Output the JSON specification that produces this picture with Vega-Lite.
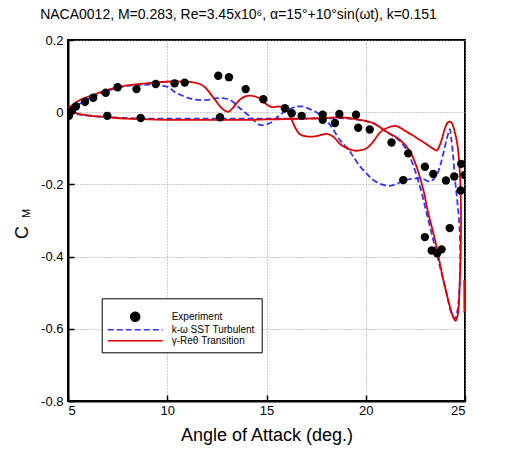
{
"$schema": "https://vega.github.io/schema/vega-lite/v6.json",
"autosize": {"type": "none"},
"padding": {"left": 68, "top": 40, "right": 45, "bottom": 48},
"width": 397,
"height": 361,
"background": "white",
"title": {"text": "NACA0012, M=0.283, Re=3.45x10⁶, α=15°+10°sin(ωt), k=0.151", "fontSize": 14, "font": "Liberation Sans", "fontWeight": "normal", "color": "black", "anchor": "middle", "dx": -28, "offset": 12},
"config": {
  "font": "Liberation Sans",
  "view": {"stroke": "black", "strokeWidth": 2},
  "legend": {
    "orient": "none", "legendX": 33.7, "legendY": 258.3,
    "strokeColor": "black", "fillColor": "white", "padding": 6,
    "symbolSize": 81, "symbolStrokeWidth": 1.5, "symbolOffset": 22, "labelOffset": 31,
    "labelFont": "Liberation Sans", "labelFontSize": 10, "labelColor": "black", "rowPadding": -1,
    "titleFontSize": 6, "titlePadding": 1
  }
},
"data": {"values": [
{"s":"E","a":5.05,"c":-0.010},{"s":"E","a":5.2,"c":0.004},{"s":"E","a":5.4,"c":0.016},{"s":"E","a":5.86,"c":0.029},{"s":"E","a":6.27,"c":0.040},{"s":"E","a":6.90,"c":0.054},{"s":"E","a":7.50,"c":0.069},{"s":"E","a":8.45,"c":0.064},{"s":"E","a":9.42,"c":0.078},{"s":"E","a":10.37,"c":0.080},{"s":"E","a":10.88,"c":0.082},{"s":"E","a":12.57,"c":0.101},{"s":"E","a":13.11,"c":0.097},{"s":"E","a":13.95,"c":0.064},{"s":"E","a":14.84,"c":0.036},{"s":"E","a":15.93,"c":0.011},{"s":"E","a":16.27,"c":-0.003},{"s":"E","a":16.77,"c":-0.010},{"s":"E","a":17.83,"c":-0.007},{"s":"E","a":17.83,"c":-0.021},{"s":"E","a":18.45,"c":-0.030},{"s":"E","a":18.67,"c":-0.005},{"s":"E","a":19.51,"c":-0.007},{"s":"E","a":19.62,"c":-0.043},{"s":"E","a":20.2,"c":-0.048},{"s":"E","a":21.30,"c":-0.084},{"s":"E","a":22.14,"c":-0.114},{"s":"E","a":22.98,"c":-0.151},{"s":"E","a":23.40,"c":-0.171},{"s":"E","a":24.04,"c":-0.189},{"s":"E","a":24.46,"c":-0.178},{"s":"E","a":24.81,"c":-0.143},{"s":"E","a":24.98,"c":-0.174},{"s":"E","a":24.78,"c":-0.217},{"s":"E","a":21.89,"c":-0.188},{"s":"E","a":22.98,"c":-0.346},{"s":"E","a":23.32,"c":-0.383},{"s":"E","a":23.60,"c":-0.391},{"s":"E","a":23.82,"c":-0.380},{"s":"E","a":24.23,"c":-0.321},{"s":"E","a":6.98,"c":-0.010},{"s":"E","a":8.66,"c":-0.016},{"s":"E","a":12.66,"c":-0.014},
{"s":"K","g":"m","o":1,"a":5.0,"c":0.0},{"s":"K","g":"m","o":2,"a":5.5,"c":-0.006},{"s":"K","g":"m","o":3,"a":6.5,"c":-0.012},{"s":"K","g":"m","o":4,"a":7.5,"c":-0.015},{"s":"K","g":"m","o":5,"a":8.5,"c":-0.017},{"s":"K","g":"m","o":6,"a":10,"c":-0.018},{"s":"K","g":"m","o":7,"a":12,"c":-0.018},{"s":"K","g":"m","o":8,"a":14,"c":-0.018},{"s":"K","g":"m","o":9,"a":16,"c":-0.018},{"s":"K","g":"m","o":10,"a":18,"c":-0.017},{"s":"K","g":"m","o":11,"a":19,"c":-0.017},{"s":"K","g":"m","o":12,"a":19.5,"c":-0.020},{"s":"K","g":"m","o":13,"a":20.0,"c":-0.025},{"s":"K","g":"m","o":14,"a":20.4,"c":-0.031},{"s":"K","g":"m","o":15,"a":21.05,"c":-0.055},{"s":"K","g":"m","o":16,"a":21.73,"c":-0.080},{"s":"K","g":"m","o":17,"a":22.23,"c":-0.125},{"s":"K","g":"m","o":18,"a":22.73,"c":-0.206},{"s":"K","g":"m","o":19,"a":23.07,"c":-0.280},{"s":"K","g":"m","o":20,"a":23.4,"c":-0.354},{"s":"K","g":"m","o":21,"a":23.74,"c":-0.428},{"s":"K","g":"m","o":22,"a":24.07,"c":-0.501},{"s":"K","g":"m","o":23,"a":24.32,"c":-0.557},{"s":"K","g":"m","o":24,"a":24.5,"c":-0.571},{"s":"K","g":"m","o":25,"a":24.62,"c":-0.550},{"s":"K","g":"m","o":26,"a":24.72,"c":-0.490},{"s":"K","g":"m","o":27,"a":24.76,"c":-0.400},{"s":"K","g":"m","o":28,"a":24.71,"c":-0.307},{"s":"K","g":"m","o":29,"a":24.6,"c":-0.240},{"s":"K","g":"m","o":30,"a":24.5,"c":-0.188},{"s":"K","g":"m","o":31,"a":24.4,"c":-0.120},{"s":"K","g":"m","o":32,"a":24.3,"c":-0.070},{"s":"K","g":"m","o":33,"a":24.24,"c":-0.047},{"s":"K","g":"m","o":34,"a":24.11,"c":-0.068},{"s":"K","g":"m","o":35,"a":23.91,"c":-0.114},{"s":"K","g":"m","o":36,"a":23.74,"c":-0.150},{"s":"K","g":"m","o":37,"a":23.57,"c":-0.174},{"s":"K","g":"m","o":38,"a":23.24,"c":-0.192},{"s":"K","g":"m","o":39,"a":22.9,"c":-0.185},{"s":"K","g":"m","o":40,"a":22.65,"c":-0.183},{"s":"K","g":"m","o":41,"a":22.3,"c":-0.185},{"s":"K","g":"m","o":42,"a":21.89,"c":-0.190},{"s":"K","g":"m","o":43,"a":21.5,"c":-0.200},{"s":"K","g":"m","o":44,"a":21.22,"c":-0.204},{"s":"K","g":"m","o":45,"a":20.8,"c":-0.200},{"s":"K","g":"m","o":46,"a":20.38,"c":-0.188},{"s":"K","g":"m","o":47,"a":20.05,"c":-0.170},{"s":"K","g":"m","o":48,"a":19.71,"c":-0.150},{"s":"K","g":"m","o":49,"a":19.37,"c":-0.123},{"s":"K","g":"m","o":50,"a":19.2,"c":-0.109},{"s":"K","g":"m","o":51,"a":18.7,"c":-0.077},{"s":"K","g":"m","o":52,"a":18.2,"c":-0.035},{"s":"K","g":"m","o":53,"a":17.7,"c":-0.007},{"s":"K","g":"m","o":54,"a":17.28,"c":0.006},{"s":"K","g":"m","o":55,"a":16.77,"c":0.016},{"s":"K","g":"m","o":56,"a":16.35,"c":0.013},{"s":"K","g":"m","o":57,"a":15.68,"c":-0.007},{"s":"K","g":"m","o":58,"a":15.18,"c":-0.030},{"s":"K","g":"m","o":59,"a":14.67,"c":-0.035},{"s":"K","g":"m","o":60,"a":14.17,"c":-0.012},{"s":"K","g":"m","o":61,"a":13.66,"c":0.011},{"s":"K","g":"m","o":62,"a":13.16,"c":0.034},{"s":"K","g":"m","o":63,"a":12.49,"c":0.039},{"s":"K","g":"m","o":64,"a":11.98,"c":0.034},{"s":"K","g":"m","o":65,"a":11.31,"c":0.036},{"s":"K","g":"m","o":66,"a":10.47,"c":0.053},{"s":"K","g":"m","o":67,"a":9.97,"c":0.071},{"s":"K","g":"m","o":68,"a":8.8,"c":0.076},{"s":"K","g":"m","o":69,"a":7.62,"c":0.069},{"s":"K","g":"m","o":70,"a":6.27,"c":0.043},{"s":"K","g":"m","o":71,"a":5.5,"c":0.020},{"s":"K","g":"m","o":72,"a":5.0,"c":0.0},
{"s":"G","g":"m","o":1,"a":5.0,"c":0.005},{"s":"G","g":"m","o":2,"a":5.5,"c":-0.004},{"s":"G","g":"m","o":3,"a":6.0,"c":-0.009},{"s":"G","g":"m","o":4,"a":7.0,"c":-0.014},{"s":"G","g":"m","o":5,"a":8.0,"c":-0.018},{"s":"G","g":"m","o":6,"a":9.0,"c":-0.020},{"s":"G","g":"m","o":7,"a":10.0,"c":-0.021},{"s":"G","g":"m","o":8,"a":12.0,"c":-0.021},{"s":"G","g":"m","o":9,"a":14.0,"c":-0.021},{"s":"G","g":"m","o":10,"a":15.0,"c":-0.020},{"s":"G","g":"m","o":11,"a":16.0,"c":-0.019},{"s":"G","g":"m","o":12,"a":17.0,"c":-0.018},{"s":"G","g":"m","o":13,"a":18.0,"c":-0.016},{"s":"G","g":"m","o":14,"a":18.7,"c":-0.014},{"s":"G","g":"m","o":15,"a":19.5,"c":-0.019},{"s":"G","g":"m","o":16,"a":20.0,"c":-0.024},{"s":"G","g":"m","o":17,"a":20.4,"c":-0.031},{"s":"G","g":"m","o":18,"a":21.05,"c":-0.054},{"s":"G","g":"m","o":19,"a":21.73,"c":-0.077},{"s":"G","g":"m","o":20,"a":22.23,"c":-0.109},{"s":"G","g":"m","o":21,"a":22.56,"c":-0.151},{"s":"G","g":"m","o":22,"a":22.9,"c":-0.215},{"s":"G","g":"m","o":23,"a":23.15,"c":-0.280},{"s":"G","g":"m","o":24,"a":23.49,"c":-0.354},{"s":"G","g":"m","o":25,"a":23.91,"c":-0.465},{"s":"G","g":"m","o":26,"a":24.24,"c":-0.539},{"s":"G","g":"m","o":27,"a":24.42,"c":-0.570},{"s":"G","g":"m","o":28,"a":24.52,"c":-0.578},{"s":"G","g":"m","o":29,"a":24.64,"c":-0.560},{"s":"G","g":"m","o":30,"a":24.74,"c":-0.470},{"s":"G","g":"m","o":31,"a":24.8,"c":-0.330},{"s":"G","g":"m","o":32,"a":24.76,"c":-0.190},{"s":"G","g":"m","o":33,"a":24.63,"c":-0.095},{"s":"G","g":"m","o":34,"a":24.46,"c":-0.049},{"s":"G","g":"m","o":35,"a":24.32,"c":-0.029},{"s":"G","g":"m","o":36,"a":24.21,"c":-0.026},{"s":"G","g":"m","o":37,"a":24.1,"c":-0.031},{"s":"G","g":"m","o":38,"a":23.99,"c":-0.045},{"s":"G","g":"m","o":39,"a":23.74,"c":-0.090},{"s":"G","g":"m","o":40,"a":23.57,"c":-0.106},{"s":"G","g":"m","o":41,"a":23.4,"c":-0.101},{"s":"G","g":"m","o":42,"a":23.1,"c":-0.090},{"s":"G","g":"m","o":43,"a":22.73,"c":-0.077},{"s":"G","g":"m","o":44,"a":22.3,"c":-0.062},{"s":"G","g":"m","o":45,"a":22.0,"c":-0.052},{"s":"G","g":"m","o":46,"a":21.7,"c":-0.042},{"s":"G","g":"m","o":47,"a":21.47,"c":-0.038},{"s":"G","g":"m","o":48,"a":21.1,"c":-0.043},{"s":"G","g":"m","o":49,"a":20.72,"c":-0.056},{"s":"G","g":"m","o":50,"a":20.4,"c":-0.080},{"s":"G","g":"m","o":51,"a":20.05,"c":-0.100},{"s":"G","g":"m","o":52,"a":19.7,"c":-0.106},{"s":"G","g":"m","o":53,"a":19.37,"c":-0.106},{"s":"G","g":"m","o":54,"a":19.0,"c":-0.098},{"s":"G","g":"m","o":55,"a":18.7,"c":-0.088},{"s":"G","g":"m","o":56,"a":18.37,"c":-0.068},{"s":"G","g":"m","o":57,"a":18.03,"c":-0.060},{"s":"G","g":"m","o":58,"a":17.53,"c":-0.066},{"s":"G","g":"m","o":59,"a":17.0,"c":-0.067},{"s":"G","g":"m","o":60,"a":16.7,"c":-0.062},{"s":"G","g":"m","o":61,"a":16.5,"c":-0.048},{"s":"G","g":"m","o":62,"a":16.3,"c":-0.025},{"s":"G","g":"m","o":63,"a":16.1,"c":-0.002},{"s":"G","g":"m","o":64,"a":15.9,"c":0.012},{"s":"G","g":"m","o":65,"a":15.6,"c":0.016},{"s":"G","g":"m","o":66,"a":15.26,"c":0.014},{"s":"G","g":"m","o":67,"a":14.92,"c":0.025},{"s":"G","g":"m","o":68,"a":14.6,"c":0.040},{"s":"G","g":"m","o":69,"a":14.17,"c":0.046},{"s":"G","g":"m","o":70,"a":13.9,"c":0.043},{"s":"G","g":"m","o":71,"a":13.66,"c":0.035},{"s":"G","g":"m","o":72,"a":13.35,"c":0.015},{"s":"G","g":"m","o":73,"a":13.08,"c":0.001},{"s":"G","g":"m","o":74,"a":12.85,"c":0.006},{"s":"G","g":"m","o":75,"a":12.66,"c":0.016},{"s":"G","g":"m","o":76,"a":12.4,"c":0.035},{"s":"G","g":"m","o":77,"a":12.15,"c":0.053},{"s":"G","g":"m","o":78,"a":11.9,"c":0.069},{"s":"G","g":"m","o":79,"a":11.65,"c":0.078},{"s":"G","g":"m","o":80,"a":11.15,"c":0.084},{"s":"G","g":"m","o":81,"a":10.14,"c":0.085},{"s":"G","g":"m","o":82,"a":8.96,"c":0.080},{"s":"G","g":"m","o":83,"a":7.96,"c":0.074},{"s":"G","g":"m","o":84,"a":7.12,"c":0.064},{"s":"G","g":"m","o":85,"a":6.27,"c":0.048},{"s":"G","g":"m","o":86,"a":5.6,"c":0.034},{"s":"G","g":"m","o":87,"a":5.0,"c":0.011},
{"s":"G","g":"v","o":1,"a":24.96,"c":-0.465},{"s":"G","g":"v","o":2,"a":24.97,"c":-0.555}
]},
"encoding": {
  "x": {"field": "a", "type": "quantitative", "scale": {"domain": [5, 25], "nice": false, "zero": false},
    "axis": {"title": "Angle of Attack (deg.)", "titleFontSize": 18, "titleFontWeight": "normal", "titleColor": "black", "titlePadding": 9,
      "values": [5, 10, 15, 20, 25], "labelFontSize": 13, "labelColor": "black", "labelPadding": 9,
      "grid": true, "gridDash": [1, 2], "gridColor": "#999999", "gridWidth": 1,
      "domainColor": "black", "domainWidth": 2, "tickColor": "black", "tickWidth": 1.5, "tickSize": -6}},
  "color": {"field": "s", "type": "nominal",
    "scale": {"domain": ["E", "K", "G"], "range": ["black", "#3333ff", "#e00000"]},
    "legend": {"title": " ",
      "labelExpr": "datum.value == 'E' ? 'Experiment' : datum.value == 'K' ? 'k-ω SST Turbulent' : 'γ-Reθ Transition'",
      "encode": {"symbols": {"update": {
        "shape": {"signal": "datum.value == 'E' ? 'circle' : 'M-6.1,0H6.1'"},
        "fill": {"signal": "datum.value == 'E' ? 'black' : 'transparent'"},
        "stroke": {"signal": "datum.value == 'E' ? 'black' : datum.value == 'K' ? '#3333ff' : '#e00000'"},
        "strokeWidth": {"value": 1.5},
        "strokeDash": {"signal": "datum.value == 'K' ? [6, 3] : [1, 0]"}
      }}}}}
},
"resolve": {"axis": {"y": "independent"}},
"layer": [
  {
    "transform": [{"filter": "datum.s == 'K'"}],
    "mark": {"type": "line", "strokeWidth": 1.8, "strokeDash": [6, 3], "interpolate": "catmull-rom", "clip": true},
    "encoding": {
      "y": {"field": "c", "type": "quantitative", "scale": {"domain": [-0.8, 0.2], "nice": false, "zero": false},
        "axis": {"orient": "left", "title": "M", "titleFontSize": 11, "titleFontWeight": "normal", "titleColor": "black", "titleX": -42, "titleY": 173, "titleAngle": 270, "titleAlign": "center", "titleBaseline": "middle", "titlePadding": 4, "minExtent": 38, "maxExtent": 38, "labels": false, "ticks": false, "domain": false, "grid": false}},
      "detail": {"field": "g"},
      "order": {"field": "o", "type": "quantitative"}
    }
  },
  {
    "transform": [{"filter": "datum.s == 'G'"}],
    "mark": {"type": "line", "strokeWidth": 1.8, "interpolate": "catmull-rom", "clip": true},
    "encoding": {
      "y": {"field": "c", "type": "quantitative", "scale": {"domain": [-0.8, 0.2], "nice": false, "zero": false}, "axis": null},
      "detail": {"field": "g"},
      "order": {"field": "o", "type": "quantitative"}
    }
  },
  {
    "transform": [{"filter": "datum.s == 'E'"}],
    "mark": {"type": "point", "filled": true, "size": 70, "opacity": 1, "clip": true},
    "encoding": {
      "y": {"field": "c", "type": "quantitative", "scale": {"domain": [-0.8, 0.2], "nice": false, "zero": false},
        "axis": {"orient": "left", "title": "C", "titleFontSize": 18, "titleFontWeight": "normal", "titleColor": "black", "titleX": -46, "titleY": 192, "titleAlign": "center", "titleBaseline": "middle",
          "values": [0.2, 0, -0.2, -0.4, -0.6, -0.8], "labelExpr": "datum.value == 0 ? '0' : replace(format(datum.value, '.1f'), '\u2212', '-')",
          "labelFontSize": 13, "labelColor": "black", "labelPadding": 11,
          "grid": true, "gridDash": [1, 2], "gridColor": "#999999", "gridWidth": 1,
          "domainColor": "black", "domainWidth": 2, "tickColor": "black", "tickWidth": 1.5, "tickSize": -6}}
    }
  }
]
}
